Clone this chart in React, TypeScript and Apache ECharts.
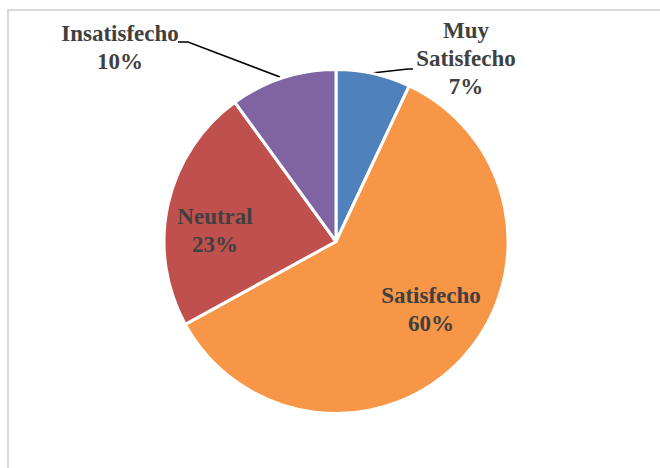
import React, { useEffect, useRef } from "react";
import * as echarts from "echarts";

const categories = ["Muy Satisfecho", "Satisfecho", "Neutral", "Insatisfecho"];
const values = [7, 60, 23, 10];
const colors = ["#4F81BD", "#F79646", "#C0504D", "#8064A2"];

// label layout (pixel positions of label centers and leader lines)
const labelCenters: [number, number][] = [
  [466, 58],
  [431, 309],
  [215, 230],
  [120, 47],
];
const leaderLines: ([number, number][] | null)[] = [
  [[372, 73], [408, 69], [413, 69]],
  null,
  null,
  [[280, 77], [188, 42], [178, 42]],
];

export default function App() {
  const ref = useRef<HTMLDivElement>(null);
  useEffect(() => {
    if (!ref.current) return;
    const chart = echarts.init(ref.current, undefined, { renderer: "svg" });
    const data = categories.map((name, i) => {
      const outside = leaderLines[i] !== null;
      return {
        name,
        value: values[i],
        itemStyle: { color: colors[i] },
        label: { position: outside ? "outside" : "inside" },
        labelLine: { show: outside },
      };
    });
    chart.setOption({
      animation: false,
      backgroundColor: "#ffffff",
      graphic: [
        {
          type: "rect",
          shape: { x: 8, y: 10, width: 720, height: 520 },
          style: { fill: "none", stroke: "#d9d9d9", lineWidth: 2 },
          silent: true,
        },
      ],
      series: [
        {
          type: "pie",
          center: [336, 241.5],
          radius: [0, 172],
          startAngle: 90,
          clockwise: true,
          data,
          itemStyle: { borderColor: "#ffffff", borderWidth: 3 },
          label: {
            show: true,
            fontFamily: "Liberation Serif",
            fontWeight: "bold",
            fontSize: 23,
            lineHeight: 28,
            color: "#404040",
            align: "center",
            formatter: (p: any) =>
              (p.dataIndex === 0 ? p.name.replace(" ", "\n") : p.name) +
              "\n" +
              Math.round(p.percent) +
              "%",
          },
          labelLine: {
            lineStyle: { color: "#000000", width: 1.5 },
            length: 10,
            length2: 10,
          },
          labelLayout: (params: any) => {
            const i = params.dataIndex;
            const c = labelCenters[i];
            const res: any = {
              x: c[0],
              y: c[1],
              align: "center",
              verticalAlign: "middle",
            };
            if (leaderLines[i]) res.labelLinePoints = leaderLines[i];
            return res;
          },
        },
      ],
    });
    return () => chart.dispose();
  }, []);
  return (
    <div
      ref={ref}
      style={{ position: "fixed", left: 0, top: 0, width: 660, height: 468 }}
    />
  );
}
